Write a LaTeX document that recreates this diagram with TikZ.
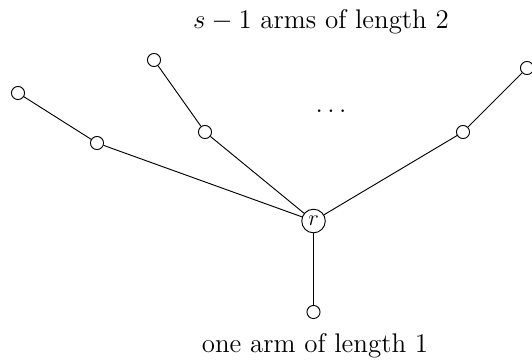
\documentclass[tikz,border=0pt]{standalone}
\begin{document}
\begin{tikzpicture}[x=0.5348pt,y=-0.5348pt,line width=0.5pt,
  leaf/.style={circle,draw,fill=white,inner sep=0pt,minimum size=7pt},
  root/.style={circle,draw,fill=white,inner sep=0pt,minimum size=12.6pt,font=\large},
  lbl/.style={anchor=base,inner sep=0pt,font=\Large}]
\useasboundingbox (0,0) rectangle (532,362);
\node[root] (r) at (313.5,221) {$r$};
\node[leaf] (b) at (313.5,312) {};
\node[leaf] (l1) at (97,143) {};
\node[leaf] (l2) at (18,93) {};
\node[leaf] (m1) at (205,132) {};
\node[leaf] (m2) at (154,60) {};
\node[leaf] (q1) at (463,132) {};
\node[leaf] (q2) at (527,68) {};
\draw (r) -- (b);
\draw (r) -- (l1) -- (l2);
\draw (r) -- (m1) -- (m2);
\draw (r) -- (q1) -- (q2);
\node[lbl] (dots) at (331,112) {$\dots$};
\node[lbl] (top) at (321,28) {$s-1$ arms of length 2};
\node[lbl] (bot) at (315,352) {one arm of length 1};
\end{tikzpicture}
\end{document}
